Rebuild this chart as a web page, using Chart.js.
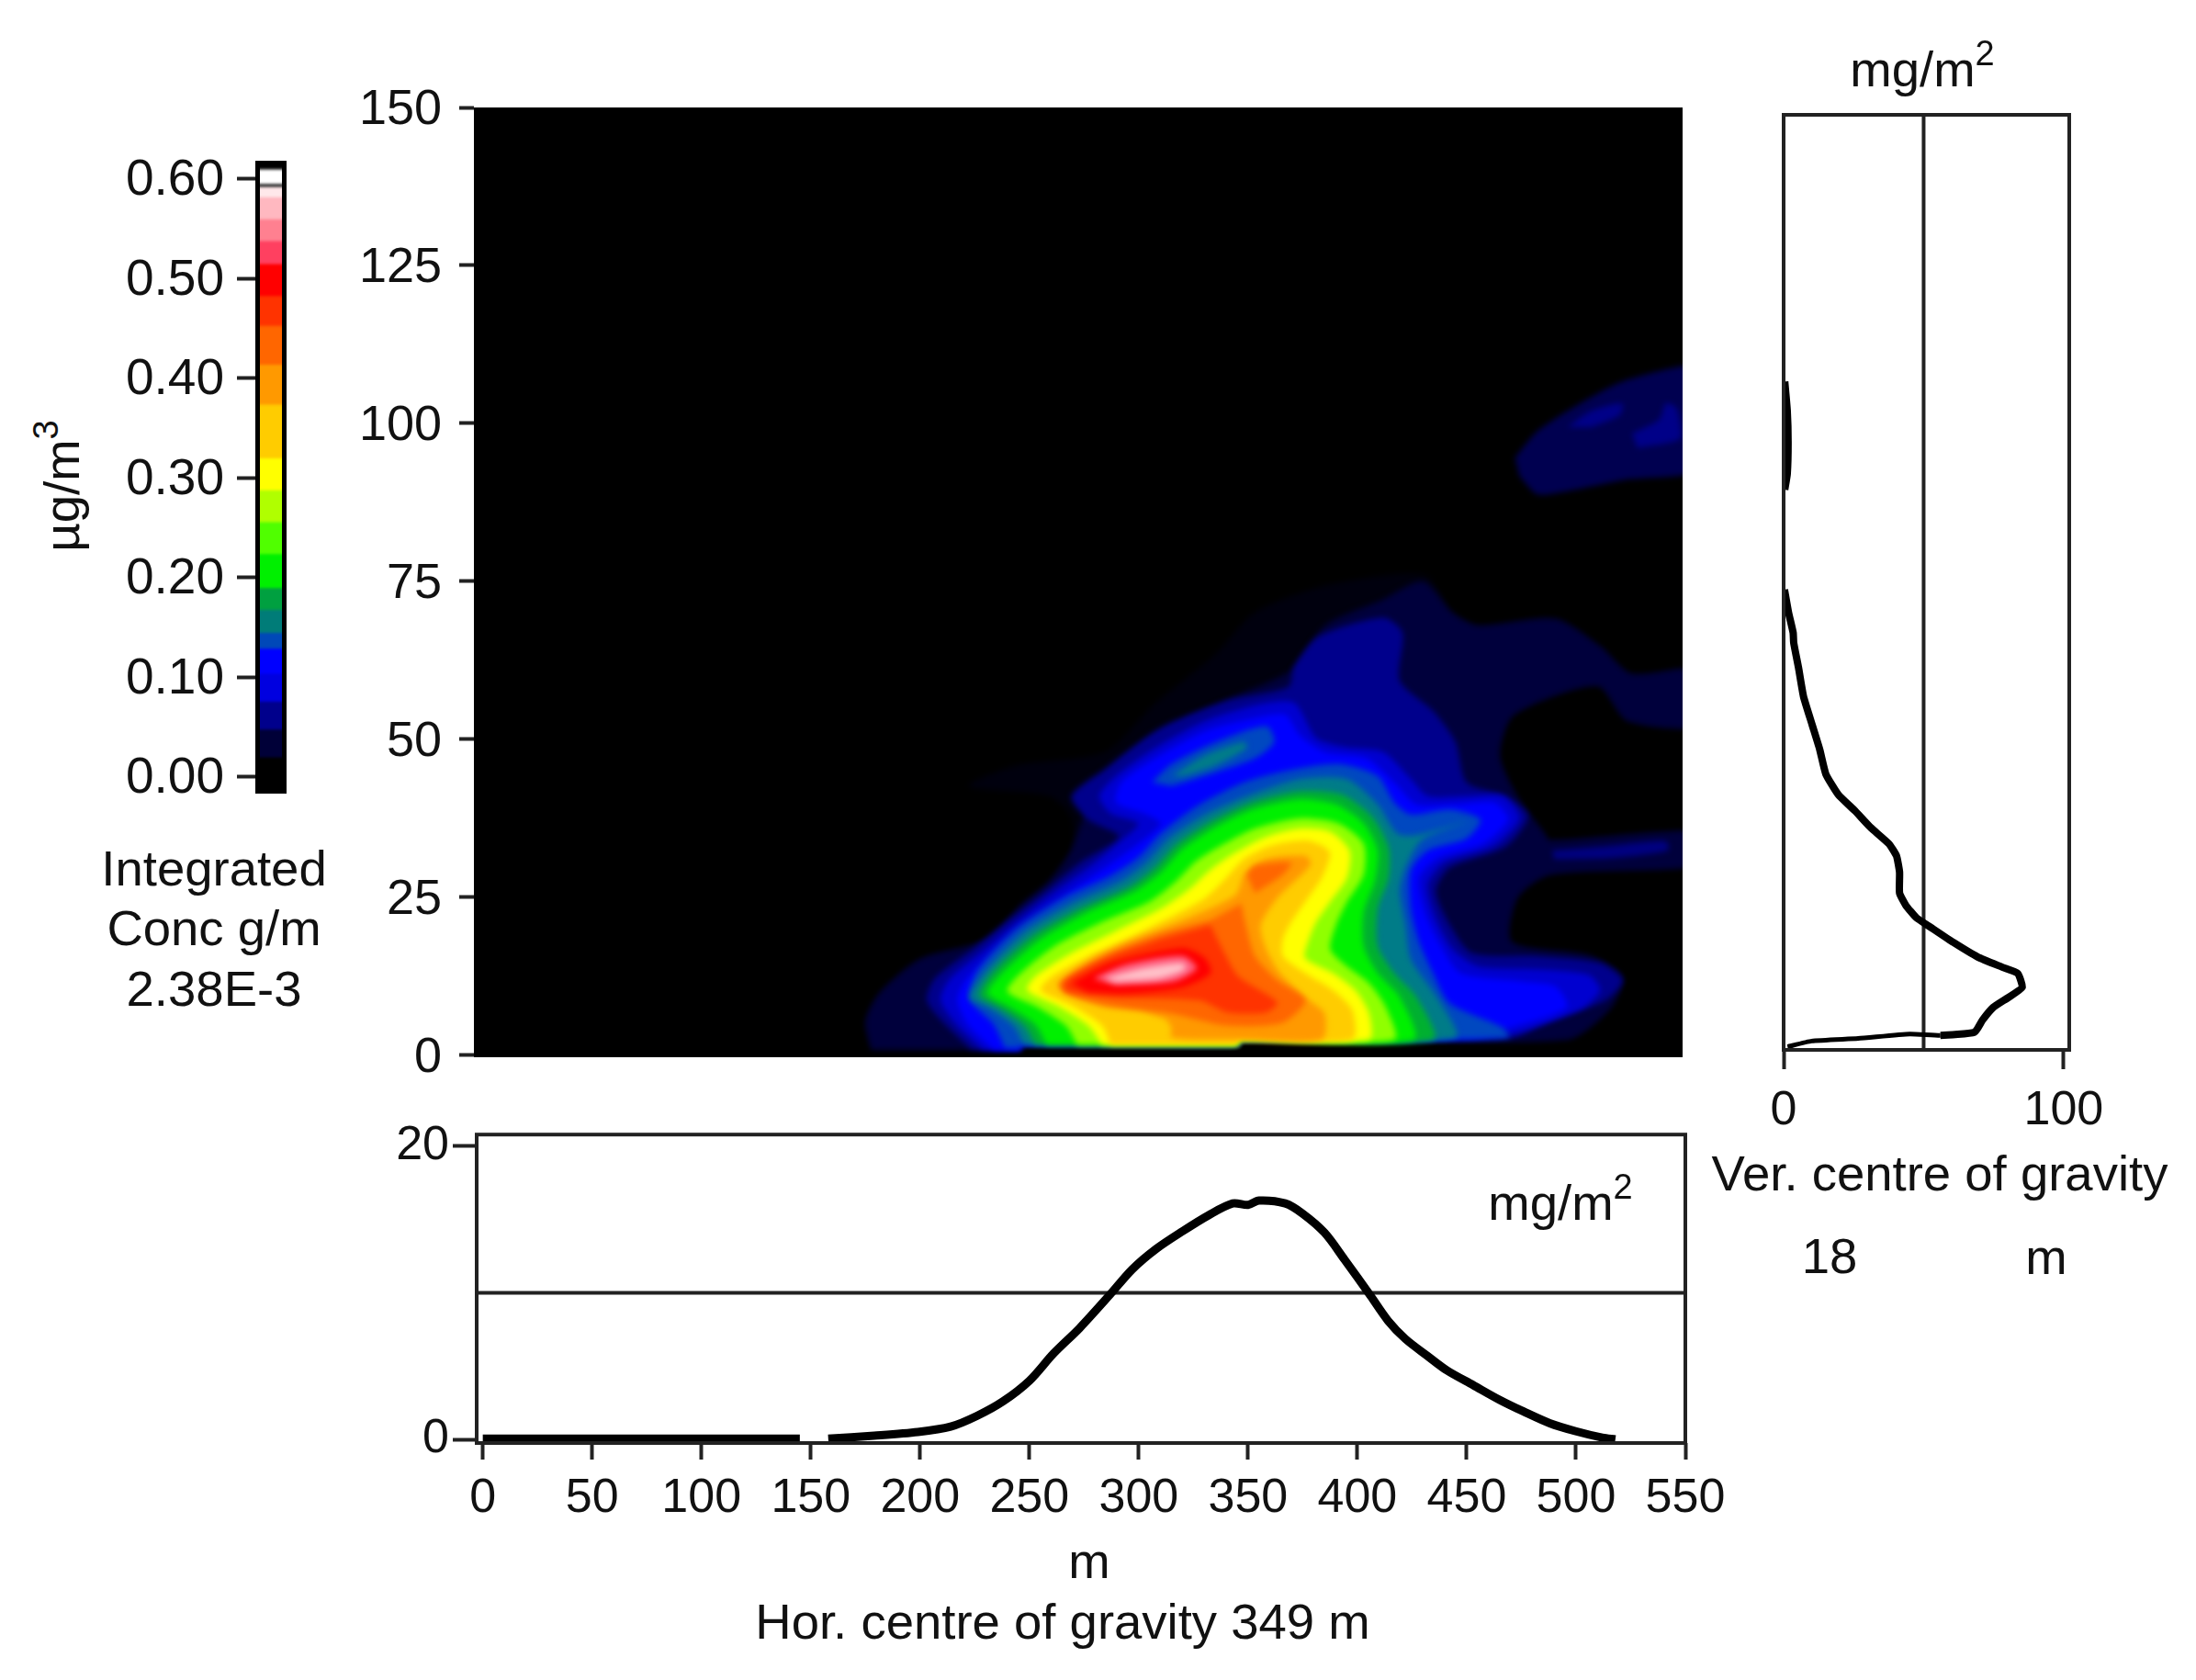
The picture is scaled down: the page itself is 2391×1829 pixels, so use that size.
<!DOCTYPE html>
<html>
<head>
<meta charset="utf-8">
<title>Integrated concentration</title>
<script src="https://cdn.jsdelivr.net/npm/chart.js"></script>
<style>
  body { margin: 0; background: #fff; width: 2391px; height: 1829px; overflow: hidden; position: relative; }
  canvas { position: absolute; }
  .lbl { position: absolute; font-family: "Liberation Sans", Arial, sans-serif; font-size: 54.5px; line-height: 60px; color: #111; white-space: nowrap; transform: translate(-50%, -50%); }
  .lbl sup { font-size: 38px; line-height: 0; position: relative; top: -4px; vertical-align: super; }
</style>
</head>
<body>
<canvas id="barChart" width="200" height="800" style="left:120px;top:120px"></canvas>
<canvas id="mainChart" width="1472" height="1156" style="left:380px;top:55px"></canvas>
<canvas id="horChart" width="1505" height="460" style="left:400px;top:1200px"></canvas>
<canvas id="verChart" width="480" height="1140" style="left:1900px;top:100px"></canvas>

<div class="lbl" style="left:233px;top:946px">Integrated</div>
<div class="lbl" style="left:233px;top:1011px">Conc g/m</div>
<div class="lbl" style="left:233px;top:1077px">2.38E-3</div>
<div class="lbl" style="left:68px;top:529px;transform:translate(-50%,-50%) rotate(-90deg)">µg/m<sup>3</sup></div>
<div class="lbl" style="left:2093px;top:76px">mg/m<sup>2</sup></div>
<div class="lbl" style="left:1699px;top:1310px">mg/m<sup>2</sup></div>
<div class="lbl" style="left:2112px;top:1278px">Ver. centre of gravity</div>
<div class="lbl" style="left:1992px;top:1368px">18</div>
<div class="lbl" style="left:2228px;top:1369px">m</div>
<div class="lbl" style="left:1186px;top:1700px">m</div>
<div class="lbl" style="left:1157px;top:1766px">Hor. centre of gravity 349 m</div>

<script>
// tick labels
const colorTicks = [0, 0.1, 0.2, 0.3, 0.4, 0.5, 0.6];
const heightTicks = [0, 25, 50, 75, 100, 125, 150];
const distanceTicks = [0, 50, 100, 150, 200, 250, 300, 350, 400, 450, 500, 550];
const horValueTicks = [0, 20];
const verValueTicks = [0, 100];

// colour bar bands (µg/m3)
const bandEdges = [-0.017, 0.02, 0.048, 0.076, 0.104, 0.129, 0.145, 0.168, 0.19, 0.224, 0.256, 0.288, 0.32, 0.374, 0.414, 0.453, 0.483, 0.515, 0.538, 0.56, 0.582, 0.5925, 0.5955, 0.61];
const bandColors = ['#000000', '#000038', '#00008c', '#0000e0', '#0000ff', '#0048b8', '#007c78', '#00a040', '#00f000', '#50ff00', '#b0ff00', '#ffff00', '#ffcc00', '#ff9900', '#ff6600', '#ff3300', '#ff0000', '#ff4060', '#ff8090', '#ffb8c0', '#ffe8ea', '#222222', '#ffffff', '#000000'];
const bandTop = 0.619;

// horizontal profile, mg/m2 against m
const horX = [0, 50, 100, 145, 150, 158, 179, 199, 214, 226, 238, 250, 261, 273, 287, 297, 308, 320, 332, 343, 350, 355, 367, 375, 385, 394, 406, 414, 422, 432, 441, 453, 465, 476, 488, 500, 512, 518];
const horY = [0.05, 0.05, 0.05, 0.05, null, 0.05, 0.25, 0.5, 0.87, 1.6, 2.6, 4, 5.85, 7.6, 9.9, 11.6, 13, 14.2, 15.3, 16.1, 16, 16.3, 16.1, 15.4, 14.1, 12.3, 9.8, 8.1, 6.85, 5.7, 4.7, 3.7, 2.7, 1.9, 1.1, 0.55, 0.12, 0];
const horMeanX = [-3, 551];
const horMeanY = [10, 10];

// vertical profile, mg/m2 against height in m
const verHeight = [106.6, 102, 97, 92, 89.5, null, 73.7, 70.1, 66.9, 65.3, 61.4, 56.8, 52.3, 48.4, 44.5, 41.3, 38.7, 36.1, 33.5, 31.6, 29, 25.7, 23.8, 21.8, 20.5, 17.9, 15.6, 14, 13, 10.8, 9.2, 7.6, 5.6, 3.7, 3.2, 3.4, 2.7, 2.3, 1.4];
const verValue = [0.4, 1.3, 1.6, 1.3, 0.4, null, 0.3, 1.75, 3.4, 3.6, 5.3, 7.1, 10.2, 12.9, 15.1, 19.5, 25.5, 31, 37.6, 40.3, 41.4, 41.4, 43.6, 47.4, 51.8, 60.6, 69.3, 78, 83.6, 85.2, 80.3, 74.8, 71, 68.2, 56, 45, 26.6, 10, 1.4];
const verMeanValue = [50, 50];
const verMeanHeight = [0, 149];

// concentration contours, each outline as [m along, m height]
const contourBlack = [[-50, -20], [600, -20], [600, 170], [-50, 170]];
const contourFaint = [[177.5, 0.9], [175, 5.4], [181.3, 9.8], [200, 15.2], [231, 18.4], [246, 23.8], [259, 27.6], [269, 32.4], [269, 37.8], [259, 41], [222, 42.6], [244, 45.9], [284.4, 48], [307, 55.6], [335.3, 63.6], [353, 70.1], [386, 74.4], [430.8, 76], [443.5, 70.1], [455, 68], [490.6, 69.3], [511, 64.7], [525, 60.4], [549, 61.2], [560, 61.2], [560, 52.3], [523.7, 52.9], [509.7, 58.5], [471.5, 53.9], [465, 47.5], [473, 41], [485.5, 35.1], [488, 34], [560, 35.3], [560, 30.2], [488, 28.6], [473, 24.9], [470.5, 17.9], [506, 15.8], [521, 12.5], [516, 7.6], [495.7, 2.5], [345.5, 2.5], [345.5, 1.7], [246, 1.7], [246, 0.9]];
const contourNavy = [[177.5, 0.9], [175, 5.4], [181.3, 9.8], [200, 15.2], [231, 18.4], [246, 23.8], [259, 27.6], [269, 32.4], [275, 38], [285, 44], [300, 49], [320, 53], [345, 57], [370, 61], [385, 68], [411, 72], [430, 75], [443.5, 70], [455, 68], [490.6, 69], [511, 64.7], [525, 60.4], [549, 61.2], [560, 61.2], [560, 52.3], [523.7, 52.9], [509.7, 58.5], [471.5, 53.9], [465, 47.5], [473, 41], [485.5, 35.1], [488, 34], [560, 35.3], [560, 30.2], [488, 28.6], [473, 24.9], [470.5, 17.9], [506, 15.8], [521, 12.5], [516, 7.6], [495.7, 2.5], [345.5, 2.5], [345.5, 1.7], [246, 1.7], [246, 0.9]];
const contourBlob = [[472, 94.6], [482, 98.7], [500, 102.8], [521, 106.6], [549, 109.1], [560, 109], [560, 93.2], [521, 91], [493, 89.1], [482, 88.8], [474, 91.7]];
const contourPocketA = [[496, 99.4], [507, 102], [521, 103.2], [520, 101.3], [507, 99.4]];
const contourPocketB = [[525.6, 98.4], [538, 100.6], [541, 103.2], [546, 102.4], [548, 97.7], [528, 96.1]];
const contourStreak = [[489, 32.4], [514, 33.1], [541, 33.9], [542, 32.4], [516, 31.2], [490, 31]];
const contour007 = [[223.3, 0.9], [211.8, 4.7], [202.9, 8.7], [206.7, 12.2], [225.8, 17.3], [241.1, 21.6], [259, 26.5], [274.2, 30.8], [290.8, 34.6], [276.8, 37.3], [269.1, 41], [284.4, 45.3], [309.9, 51.8], [340.4, 56.1], [368.4, 58.3], [371, 61.5], [382.4, 66.3], [411.7, 69.3], [420.6, 66.9], [419.3, 59.3], [434.6, 54.5], [444.8, 49.6], [449.9, 43.2], [467.7, 41], [477.9, 37.8], [467.7, 33], [442.3, 29.7], [435.9, 26], [442.3, 20.6], [452.4, 16.2], [483, 15.7], [511, 14.6], [521.2, 11.9], [513.5, 8.7], [488.1, 5.5], [470.3, 2.8], [345.5, 2.5], [345.5, 1.7], [246, 1.7], [246, 0.9]];
const contour009 = [[228.4, 0.9], [216.9, 4.7], [209.3, 8.7], [213.1, 11.9], [229.7, 16.8], [245, 21.4], [262.8, 26.2], [278, 30], [292, 34], [299.7, 36.7], [287, 38.3], [281.9, 41], [289.5, 44.2], [307.3, 48.6], [330.2, 52.9], [355.7, 55.6], [371, 55.8], [381.1, 50.2], [393.9, 48.8], [411.7, 48], [424.4, 43.7], [432.1, 41], [449.9, 41], [466.4, 41], [474.1, 37.5], [462.6, 33.2], [439.7, 30.5], [432.1, 27], [435.9, 21.6], [443.5, 16.8], [455, 14.1], [483, 13.6], [505.9, 12.7], [511, 10.3], [503.4, 7.6], [480.5, 4.4], [462.6, 2.8], [345.5, 2.5], [345.5, 1.7], [246, 1.7], [246, 0.9]];
const contour010 = [[233.5, 0.9], [222, 4.7], [216.9, 8.7], [220.8, 11.9], [236, 16.8], [251.3, 21.1], [269.1, 26], [284.4, 29.7], [299.7, 33.5], [309.9, 36.7], [302.2, 38.3], [289.5, 40], [292, 43.2], [307.3, 47], [330.2, 51.3], [353.1, 53.4], [367.1, 53.9], [373.5, 50.7], [385, 48], [404.1, 47], [416.8, 43.2], [427, 39.7], [444.8, 39.7], [462.6, 40], [469, 37.3], [457.5, 33.5], [437.2, 31.3], [428.2, 28.1], [430.8, 22.7], [437.2, 17.9], [447.3, 13], [475.4, 11.7], [490.6, 10.9], [495.7, 7.6], [470.3, 4.4], [452.4, 2.8], [345.5, 2.5], [345.5, 1.7], [246, 1.7], [246, 0.9]];
const contour013 = [[238.6, 1.2], [233.5, 4.9], [225.8, 7.4], [222, 9.1], [225.8, 13.3], [243.7, 20], [265.3, 24.9], [287, 28.4], [299.7, 31.3], [309.9, 35.1], [326.4, 39.4], [348.1, 43.2], [368.4, 45.1], [391.3, 46.1], [409.2, 44.2], [416.8, 40], [424.4, 38.1], [442.3, 38.9], [456.3, 37.3], [449.9, 34.3], [432.1, 32.4], [424.4, 29.2], [424.4, 23.2], [428.2, 17.9], [434.6, 13], [442.3, 8.2], [466.4, 4.4], [469, 2.8], [345.5, 2.5], [345.5, 1.7], [246, 1.7], [246, 1.2]];
const lobe013 = [[306, 43.2], [315, 46.1], [335.3, 49.6], [358.2, 52.1], [362, 49.6], [353.1, 47], [335.3, 44.8], [315, 42.6]];
const contour015 = [[247.5, 1.7], [242.4, 4.7], [230.9, 7.6], [222.8, 9.2], [229.7, 13.3], [247.5, 19.5], [269.1, 24], [292, 27.6], [303.5, 30.5], [313.7, 34.3], [330.2, 38.1], [349.3, 41], [373.5, 43.7], [395.1, 43.7], [409.2, 39.7], [418.1, 35.1], [427, 34.8], [449.9, 37], [429.5, 34.1], [421.9, 29.7], [419.3, 26], [421.9, 20.6], [424.4, 15.2], [437.2, 8.7], [444.8, 2.8], [345.5, 2.5], [345.5, 1.7]];
const lobe015 = [[315, 44.2], [330.2, 47.5], [348.1, 49.6], [349.3, 48.6], [335.3, 45.9], [320, 44.2]];
const contour018 = [[252.6, 1.7], [247.5, 4.7], [236, 7.6], [227.1, 9.5], [233.5, 13.3], [251.3, 18.9], [273, 23.2], [295.9, 26.7], [307.3, 29.7], [317.5, 33.5], [332.8, 37], [350.6, 39.9], [373.5, 41.8], [392.6, 41.3], [406.6, 37.8], [414.2, 32.9], [414.2, 28.1], [409.2, 23.2], [409.2, 17.3], [416.8, 13], [427, 9.2], [434.6, 2.5], [345.5, 2.5], [345.5, 1.7]];
const contour020 = [[257.7, 1.7], [252.6, 4.9], [241.1, 7.6], [230.9, 9.8], [237.3, 13], [255.1, 18.4], [276.8, 22.7], [298.4, 26], [309.9, 28.9], [320, 32.7], [335.3, 36.2], [351.9, 38.9], [373.5, 40.5], [390.1, 39.7], [402.8, 36.7], [409.2, 32.4], [407.9, 27.6], [402.8, 22.7], [402.8, 17.3], [409.2, 13], [419.3, 9.2], [425.7, 2.5], [345.5, 2.5], [345.5, 1.7]];
const contour025 = [[271.7, 1.7], [266.6, 4.7], [253.8, 7.6], [239.8, 10.1], [245, 12.7], [261.5, 17.3], [283.1, 21.1], [304.8, 24.3], [316.2, 27.3], [326.4, 30.8], [339.1, 33.5], [353.1, 35.9], [373.5, 37.5], [391.3, 36.7], [402.8, 33.5], [402.8, 28.6], [395.2, 24.3], [390.1, 20.6], [387.5, 16.8], [393.9, 14.4], [405.3, 11.4], [413, 7.6], [416.8, 2.5], [345.5, 2.5], [345.5, 1.7]];
const contour029 = [[283.1, 1.7], [276.8, 4.7], [264, 7.6], [248.8, 10.3], [252.6, 12.5], [269.1, 16.2], [289.5, 19.7], [309.9, 23.2], [322.6, 26.2], [332.8, 29.4], [344.2, 32.1], [358.2, 34.6], [373.5, 35.9], [387.5, 35.4], [396.4, 32.4], [395.2, 28.1], [387.5, 24.3], [381.1, 21.1], [377.3, 17.9], [376, 15.4], [388.8, 13], [399, 10.3], [405.3, 6.6], [405.3, 2.5], [345.5, 2.5], [345.5, 1.7]];
const contour032 = [[287, 1.7], [283.1, 4.7], [269.1, 7.9], [255.1, 10.3], [260.2, 12.5], [276.8, 15.7], [297.1, 18.9], [316.2, 22.2], [330.2, 24.9], [339.1, 27.8], [348.1, 31.1], [360.8, 33.2], [376.1, 34], [383.7, 33.2], [387.5, 31.9], [383.7, 28.1], [376.1, 24.3], [369.7, 21.1], [365.9, 18.4], [365.9, 15.7], [376.1, 13], [388.8, 10.3], [397.7, 7.1], [397.7, 2.5], [345.5, 2.5], [345.5, 1.7]];
const contour038 = [[315, 4.4], [315, 2.8], [345.5, 2.5], [383.7, 2.5], [385, 6.6], [376.1, 9.2], [364.6, 13], [358.2, 16.8], [355.7, 20.6], [363.3, 24.9], [378.6, 30.2], [376.1, 31.6], [358.2, 31.1], [348.1, 28.6], [344.2, 25.4], [320, 21.4], [294.6, 17.9], [276.8, 14.9], [262.8, 11.1], [271.7, 9.2], [284.4, 7.6], [299.7, 7.1], [312.4, 5.7]];
const contour042 = [[346.8, 24], [349.3, 20], [353.1, 15.7], [363.3, 11.9], [376.1, 8.7], [365.9, 5.2], [340.4, 4.7], [315, 6.6], [287, 7.9], [266.6, 9.8], [264, 11.4], [284.4, 15.7], [309.9, 19.2], [332.8, 21.4]];
const patch042 = [[349.3, 28.6], [353.1, 30], [369.7, 30.5], [365.9, 28.6], [353.1, 25.7]];
const contour046 = [[332.8, 20.6], [339.1, 16.2], [345.5, 12.5], [363.3, 8.4], [358.2, 6.8], [340.4, 6.8], [327.7, 8.7], [287, 9.2], [266.6, 10.3], [266.6, 11.7], [284.4, 15.2], [309.9, 18.4]];
const contour050 = [[269.1, 11.4], [287, 14.6], [320, 17], [330.2, 15.4], [332.8, 13], [320, 10.8], [294.6, 9.8], [276.8, 10]];
const contour053 = [[279.3, 12.2], [294.6, 14.4], [320, 15.7], [326.4, 13.8], [316.2, 11.7], [289.5, 11.1]];
const contour056 = [[284.4, 12.2], [302.2, 13.8], [320, 14.6], [321.3, 13.6], [309.9, 12.2], [289.5, 11.7]];

const contourShapes = [contourBlack, contourFaint, contourNavy, contourBlob, contourPocketA, contourPocketB, contourStreak, contour007, contour009, contour010, contour013, lobe013, contour015, lobe015, contour018, contour020, contour025, contour029, contour032, contour038, contour042, patch042, contour046, contour050, contour053, contour056];
const contourColors = ['#000000', '#00000e', '#00003c', '#000050', '#000088', '#000088', '#000080', '#00008c', '#0000d0', '#0000ff', '#0048c0', '#0048c0', '#007c88', '#007c88', '#00b030', '#00f000', '#90ff00', '#ffff00', '#ffcc00', '#ff9900', '#ff6600', '#ff6600', '#ff3300', '#ff0000', '#ff6080', '#ffc0c8'];

const FONT = 'Liberation Sans';
const INK = '#222';
Chart.defaults.animation = false;
Chart.defaults.responsive = false;
Chart.defaults.font.family = FONT;
Chart.defaults.color = '#111';
Chart.defaults.plugins.legend.display = false;
Chart.defaults.plugins.tooltip.enabled = false;

const toPoints = (xs, ys) => xs.map((x, i) => ({ x: x, y: ys[i] }));

const frame = {
  id: 'frame',
  afterDatasetsDraw(chart, args, opts) {
    const { left, top, width, height } = chart.chartArea;
    const ctx = chart.ctx;
    const lw = opts.width || 4;
    const inset = opts.inset ? lw / 2 : 0;
    ctx.save();
    ctx.strokeStyle = opts.color || INK;
    ctx.lineWidth = lw;
    ctx.strokeRect(left + inset, top + inset, width - inset * 2, height - inset * 2);
    ctx.restore();
  }
};

const softEdges = {
  id: 'softEdges',
  beforeDatasetsDraw(chart, args, opts) { chart.ctx.filter = `blur(${opts.radius || 3}px)`; },
  afterDatasetsDraw(chart) { chart.ctx.filter = 'none'; }
};

// axis with its ticks fixed to a list and its thickness fixed
const tickAxis = (values, min, max, size, fontSize, tickLen, pad, labelShift, format) => ({
  type: 'linear',
  min: min,
  max: max,
  afterBuildTicks: (axis) => { axis.ticks = values.map(v => ({ value: v })); },
  afterFit: (axis) => {
    if (axis.isHorizontal()) axis.height = size; else axis.width = size;
  },
  border: { display: false },
  grid: { drawOnChartArea: false, tickLength: tickLen, tickWidth: 4, tickColor: INK },
  ticks: {
    font: { size: fontSize },
    padding: pad,
    labelOffset: labelShift,
    maxRotation: 0,
    autoSkip: false,
    callback: format || (v => v)
  }
});

// colour bar, bands nested from the bottom up so the blur leaves no seams
new Chart(document.getElementById('barChart'), {
  type: 'bar',
  data: {
    labels: ['µg/m3'],
    datasets: bandColors.map((c, i) => ({
      data: [[bandEdges[i], bandTop]],
      backgroundColor: c,
      grouped: false,
      barPercentage: 1,
      categoryPercentage: 1,
      order: bandColors.length - i
    }))
  },
  options: {
    layout: { padding: { top: 55, right: 8, bottom: 56 } },
    scales: {
      x: { display: false },
      y: tickAxis(colorTicks, -0.0166, 0.6184, 158, 55, 20, 14, 2, v => v.toFixed(2))
    },
    plugins: { frame: { color: '#000', width: 5, inset: true }, softEdges: { radius: 1.5 } }
  },
  plugins: [softEdges, frame]
});

// main contour picture
new Chart(document.getElementById('mainChart'), {
  type: 'scatter',
  data: {
    datasets: contourShapes.map((shape, i) => ({
      data: shape.map(p => ({ x: p[0], y: p[1] })),
      showLine: true,
      fill: 'shape',
      backgroundColor: contourColors[i],
      borderWidth: 0,
      pointRadius: 0,
      tension: i === 0 ? 0 : 0.25,
      order: contourShapes.length - i
    }))
  },
  options: {
    layout: { padding: { top: 62, right: 20, bottom: 60 } },
    scales: {
      x: { type: 'linear', display: false, min: -4.2, max: 548.7 },
      y: tickAxis(heightTicks, -0.3, 150, 136, 54, 16, 19, 3)
    }
  },
  plugins: [softEdges]
});

// horizontal profile
new Chart(document.getElementById('horChart'), {
  type: 'scatter',
  data: {
    datasets: [
      { data: toPoints(horX, horY), showLine: true, borderColor: '#000', borderWidth: 9, pointRadius: 0, tension: 0.3 },
      { data: toPoints(horMeanX, horMeanY), showLine: true, borderColor: INK, borderWidth: 4, pointRadius: 0 }
    ]
  },
  options: {
    layout: { padding: { top: 32, right: 70 } },
    scales: {
      x: tickAxis(distanceTicks, -2.8, 550, 89, 52, 18, 11, 0),
      y: tickAxis(horValueTicks, -0.25, 20.8, 119, 52, 26, 4, 0)
    }
  },
  plugins: [frame]
});

// vertical profile
new Chart(document.getElementById('verChart'), {
  type: 'scatter',
  data: {
    datasets: [
      {
        data: toPoints(verValue, verHeight),
        showLine: true,
        borderColor: '#000',
        borderWidth: 8,
        pointRadius: 0,
        tension: 0.15,
        segment: { borderWidth: ctx => (ctx.p0.parsed.y < 3.5 && ctx.p1.parsed.y < 3.5 ? 5 : 8) }
      },
      { data: toPoints(verMeanValue, verMeanHeight), showLine: true, borderColor: INK, borderWidth: 4, pointRadius: 0 }
    ]
  },
  options: {
    layout: { padding: { top: 25, left: 42, right: 127 } },
    scales: {
      x: tickAxis(verValueTicks, 0, 102, 97, 52, 21, 14, 0),
      y: { type: 'linear', display: false, min: 0.9, max: 148.8 }
    }
  },
  plugins: [frame]
});
</script>
</body>
</html>
